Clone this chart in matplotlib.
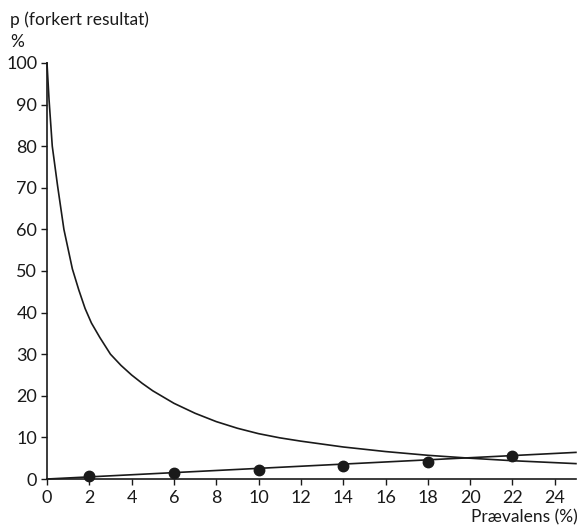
import matplotlib
matplotlib.use("Agg")
from matplotlib import pyplot as plt

# falling curve: p (false positive)
curve_x = [0, 0.1, 0.25, 0.5, 0.8, 1.2, 1.5, 1.8, 2.1, 2.5, 3, 3.5, 4, 4.5, 5, 6, 7, 8, 9, 10,
           11, 12, 14, 16, 18, 20, 22, 25]
curve_y = [100, 91, 80, 70.5, 60, 50.5, 45.5, 41, 37.5, 34, 30, 27.3, 25, 23, 21.2, 18.2, 15.8, 13.8, 12.2, 10.9,
           9.9, 9.1, 7.7, 6.6, 5.7, 5.0, 4.4, 3.7]

# rising line: p (false negative)
line_x = [0, 25]
line_y = [0, 6.4]

# dots on the rising line
dot_x = [2, 6, 10, 14, 18, 22]
dot_y = [0.8, 1.4, 2.1, 3.2, 4.1, 5.6]

xticks = list(range(0, 26, 2))
yticks = list(range(0, 101, 10))

plt.rcParams['font.family'] = ['Lato', 'DejaVu Sans']

fig = plt.figure(figsize=(5.8, 5.3), dpi=100)
ax = fig.add_axes([0.081, 0.0962, 0.912, 0.785])

ax.plot(curve_x, curve_y, color='#1a1a1a', lw=1.2, clip_on=False)
ax.plot(line_x, line_y, color='#1a1a1a', lw=1.2, clip_on=False)
ax.plot(dot_x, dot_y, 'o', color='#1a1a1a', ms=7.5, clip_on=False)

ax.set_xlim(0, 25)
ax.set_ylim(0, 100)
ax.set_xticks(xticks)
ax.set_yticks(yticks)
ax.tick_params(axis='both', direction='out', length=4, width=1, labelsize=13, colors='#1a1a1a')
ax.tick_params(axis='x', pad=4)
ax.tick_params(axis='y', pad=3)

for s in ['top', 'right']:
    ax.spines[s].set_visible(False)
for s in ['left', 'bottom']:
    ax.spines[s].set_linewidth(1.2)
    ax.spines[s].set_color('#1a1a1a')

fig.text(10 / 580, 1 - 20 / 530, 'p (forkert resultat)', fontsize=12.5, va='center', ha='left', color='#1a1a1a')
fig.text(10 / 580, 1 - 42 / 530, '%', fontsize=12.5, va='center', ha='left', color='#1a1a1a')
fig.text(578 / 580, 1 - 517 / 530, 'Prævalens (%)', fontsize=12.5, va='center', ha='right', color='#1a1a1a')

fig.savefig('out.png', dpi=100)
